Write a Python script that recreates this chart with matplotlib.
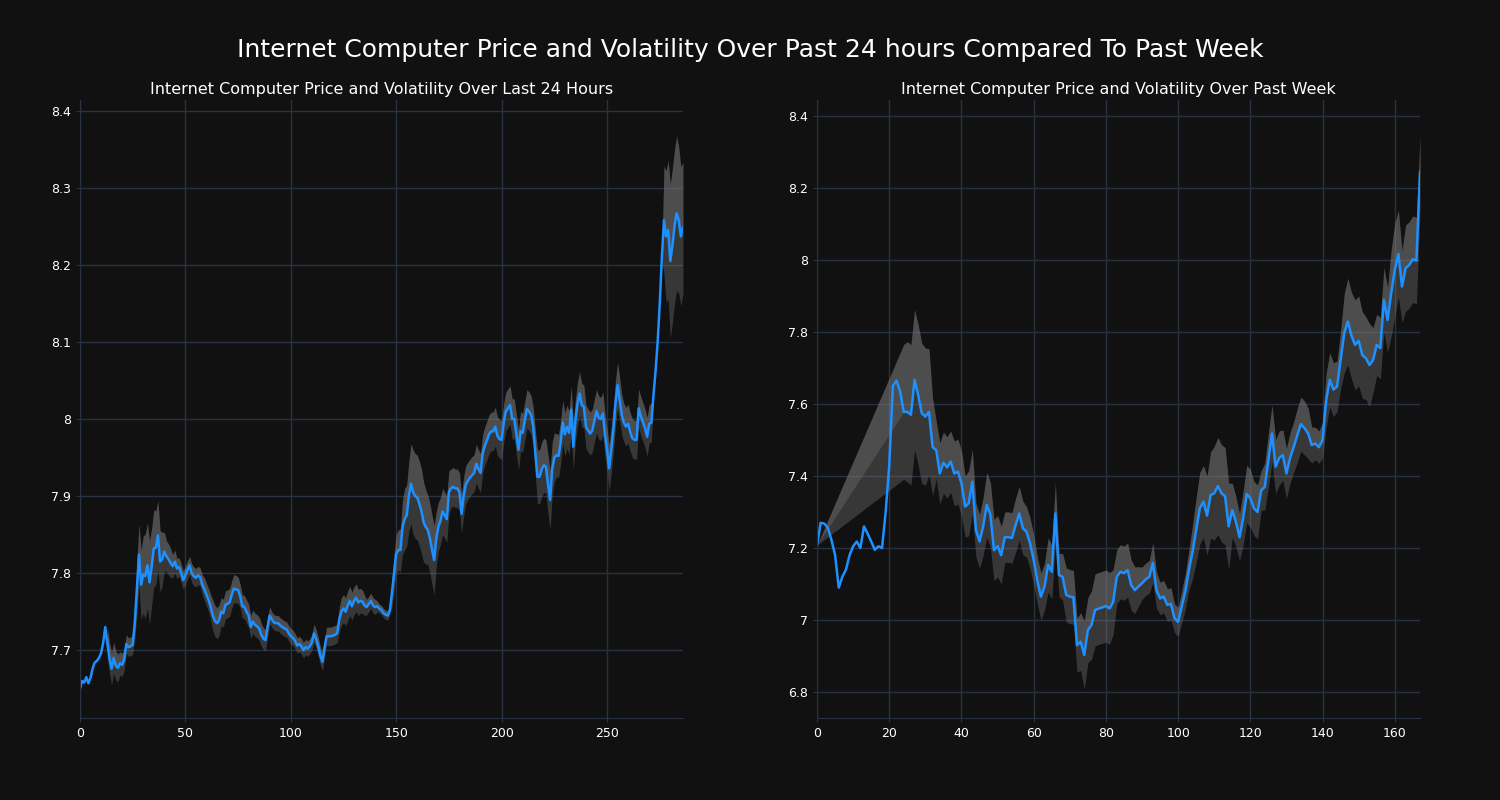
import numpy as np
import pandas as pd
import matplotlib
matplotlib.use("Agg")
import matplotlib.pyplot as plt
from matplotlib.ticker import FuncFormatter

# price over the last 24 hours (5 min steps)
price_24h = [
    7.650, 7.660, 7.658, 7.665, 7.657, 7.664, 7.676, 7.684, 7.686, 7.690,
    7.696, 7.709, 7.730, 7.709, 7.690, 7.676, 7.690, 7.680, 7.677, 7.683,
    7.681, 7.688, 7.708, 7.704, 7.705, 7.707, 7.735, 7.780, 7.824, 7.785,
    7.798, 7.796, 7.810, 7.788, 7.808, 7.832, 7.833, 7.849, 7.815, 7.818,
    7.828, 7.822, 7.818, 7.813, 7.809, 7.815, 7.806, 7.808, 7.800, 7.791,
    7.797, 7.804, 7.810, 7.800, 7.796, 7.794, 7.797, 7.795, 7.785, 7.779,
    7.772, 7.765, 7.756, 7.745, 7.738, 7.735, 7.739, 7.750, 7.748, 7.759,
    7.760, 7.762, 7.772, 7.780, 7.779, 7.778, 7.770, 7.757, 7.756, 7.750,
    7.745, 7.730, 7.737, 7.733, 7.731, 7.728, 7.720, 7.715, 7.713, 7.730,
    7.745, 7.740, 7.736, 7.735, 7.735, 7.732, 7.730, 7.728, 7.727, 7.722,
    7.718, 7.716, 7.712, 7.706, 7.708, 7.705, 7.700, 7.704, 7.702, 7.705,
    7.710, 7.722, 7.715, 7.705, 7.693, 7.685, 7.703, 7.718, 7.718, 7.718,
    7.719, 7.720, 7.722, 7.740, 7.750, 7.754, 7.750, 7.758, 7.764, 7.757,
    7.764, 7.768, 7.762, 7.764, 7.763, 7.758, 7.756, 7.760, 7.764, 7.758,
    7.756, 7.757, 7.754, 7.752, 7.748, 7.746, 7.745, 7.752, 7.775, 7.800,
    7.825, 7.830, 7.830, 7.860, 7.870, 7.875, 7.900, 7.916, 7.905, 7.900,
    7.898, 7.890, 7.880, 7.866, 7.860, 7.856, 7.845, 7.830, 7.817, 7.845,
    7.860, 7.868, 7.880, 7.875, 7.870, 7.905, 7.910, 7.912, 7.910, 7.910,
    7.905, 7.877, 7.900, 7.915, 7.920, 7.924, 7.927, 7.930, 7.942, 7.935,
    7.930, 7.955, 7.965, 7.972, 7.980, 7.984, 7.984, 7.990, 7.978, 7.974,
    7.973, 7.995, 8.010, 8.014, 8.018, 8.000, 8.000, 7.980, 7.960, 7.984,
    7.982, 7.998, 8.013, 8.010, 8.005, 7.990, 7.955, 7.925, 7.925, 7.935,
    7.940, 7.938, 7.915, 7.895, 7.935, 7.950, 7.953, 7.952, 7.970, 7.996,
    7.980, 7.990, 7.982, 8.012, 7.964, 7.998, 8.020, 8.033, 8.018, 8.016,
    7.990, 7.985, 7.981, 7.985, 7.998, 8.010, 8.002, 8.000, 8.007, 7.980,
    7.960, 7.936, 7.960, 7.986, 8.020, 8.044, 8.025, 8.005, 7.995, 7.990,
    7.994, 7.983, 7.975, 7.973, 7.973, 8.014, 8.004, 7.996, 7.988, 7.977,
    7.994, 7.995, 8.030, 8.062, 8.100, 8.150, 8.210, 8.258, 8.237, 8.245,
    8.205, 8.225, 8.250, 8.267, 8.258, 8.237, 8.248,
]

# volatility band half width (nan = no band yet)
vol_24h = [
    np.nan, np.nan, np.nan, np.nan, np.nan, np.nan, np.nan, np.nan, np.nan, np.nan,
    np.nan, np.nan, np.nan, 0.020, 0.020, 0.021, 0.020, 0.019, 0.018, 0.015,
    0.015, 0.014, 0.012, 0.012, 0.012, 0.013, 0.020, 0.035, 0.040, 0.045,
    0.050, 0.055, 0.055, 0.054, 0.050, 0.050, 0.048, 0.045, 0.040, 0.035,
    0.025, 0.020, 0.020, 0.019, 0.015, 0.015, 0.013, 0.012, 0.012, 0.012,
    0.012, 0.012, 0.012, 0.012, 0.012, 0.012, 0.012, 0.012, 0.013, 0.015,
    0.015, 0.015, 0.016, 0.020, 0.020, 0.020, 0.020, 0.018, 0.018, 0.018,
    0.018, 0.018, 0.018, 0.018, 0.018, 0.017, 0.015, 0.015, 0.015, 0.015,
    0.015, 0.015, 0.015, 0.015, 0.015, 0.015, 0.015, 0.014, 0.014, 0.013,
    0.011, 0.010, 0.010, 0.010, 0.010, 0.010, 0.010, 0.010, 0.010, 0.010,
    0.010, 0.010, 0.010, 0.010, 0.010, 0.010, 0.010, 0.010, 0.010, 0.010,
    0.010, 0.012, 0.012, 0.012, 0.012, 0.012, 0.012, 0.012, 0.012, 0.012,
    0.012, 0.012, 0.012, 0.016, 0.018, 0.018, 0.018, 0.019, 0.019, 0.018,
    0.018, 0.018, 0.017, 0.016, 0.015, 0.013, 0.010, 0.010, 0.010, 0.010,
    0.010, 0.007, 0.006, 0.006, 0.006, 0.006, 0.006, 0.006, 0.020, 0.025,
    0.025, 0.026, 0.028, 0.035, 0.040, 0.040, 0.045, 0.052, 0.055, 0.055,
    0.055, 0.055, 0.055, 0.052, 0.048, 0.045, 0.045, 0.045, 0.045, 0.035,
    0.032, 0.030, 0.030, 0.030, 0.030, 0.028, 0.025, 0.025, 0.025, 0.025,
    0.025, 0.025, 0.025, 0.025, 0.024, 0.024, 0.024, 0.024, 0.025, 0.025,
    0.025, 0.025, 0.025, 0.025, 0.025, 0.025, 0.025, 0.025, 0.025, 0.025,
    0.025, 0.025, 0.025, 0.025, 0.025, 0.026, 0.026, 0.026, 0.026, 0.026,
    0.025, 0.025, 0.025, 0.025, 0.025, 0.025, 0.030, 0.035, 0.035, 0.035,
    0.035, 0.035, 0.038, 0.038, 0.035, 0.032, 0.028, 0.028, 0.028, 0.028,
    0.028, 0.028, 0.028, 0.030, 0.030, 0.028, 0.028, 0.028, 0.028, 0.028,
    0.028, 0.028, 0.028, 0.028, 0.028, 0.028, 0.028, 0.028, 0.028, 0.028,
    0.028, 0.030, 0.030, 0.030, 0.030, 0.030, 0.028, 0.026, 0.025, 0.025,
    0.025, 0.025, 0.025, 0.025, 0.025, 0.025, 0.025, 0.025, 0.025, 0.025,
    0.025, 0.025, 0.005, 0.005, 0.005, 0.005, 0.005, 0.070, 0.085, 0.090,
    0.100, 0.100, 0.100, 0.100, 0.095, 0.090, 0.085,
]

# price over the past week (hourly)
price_week = [
    7.208, 7.270, 7.268, 7.256, 7.222, 7.180, 7.090, 7.120, 7.140, 7.180,
    7.205, 7.218, 7.200, 7.260, 7.240, 7.218, 7.195, 7.205, 7.200, 7.300,
    7.430, 7.650, 7.665, 7.635, 7.578, 7.578, 7.570, 7.667, 7.625, 7.574,
    7.565, 7.578, 7.480, 7.472, 7.407, 7.437, 7.424, 7.440, 7.407, 7.412,
    7.380, 7.315, 7.324, 7.384, 7.250, 7.218, 7.260, 7.320, 7.292, 7.194,
    7.205, 7.180, 7.230, 7.230, 7.228, 7.264, 7.296, 7.255, 7.245, 7.213,
    7.167, 7.110, 7.065, 7.093, 7.153, 7.134, 7.296, 7.125, 7.120, 7.070,
    7.065, 7.063, 6.930, 6.940, 6.903, 6.972, 6.986, 7.028, 7.032, 7.035,
    7.039, 7.032, 7.050, 7.120, 7.134, 7.130, 7.139, 7.097, 7.083, 7.093,
    7.102, 7.113, 7.120, 7.159, 7.083, 7.060, 7.065, 7.042, 7.045, 7.005,
    6.995, 7.037, 7.080, 7.140, 7.190, 7.250, 7.310, 7.329, 7.290, 7.347,
    7.352, 7.372, 7.352, 7.344, 7.260, 7.305, 7.273, 7.230, 7.282, 7.350,
    7.338, 7.310, 7.300, 7.360, 7.370, 7.444, 7.518, 7.426, 7.450, 7.458,
    7.407, 7.450, 7.480, 7.513, 7.544, 7.533, 7.518, 7.486, 7.490, 7.480,
    7.500, 7.610, 7.667, 7.640, 7.648, 7.722, 7.796, 7.829, 7.790, 7.764,
    7.775, 7.736, 7.727, 7.708, 7.722, 7.764, 7.755, 7.889, 7.833, 7.907,
    7.972, 8.017, 7.926, 7.977, 7.986, 8.002, 7.998, 8.245,
]

vol_week = [
    0.000, np.nan, np.nan, np.nan, np.nan, np.nan, np.nan, np.nan, np.nan, np.nan,
    np.nan, np.nan, np.nan, np.nan, np.nan, np.nan, np.nan, np.nan, np.nan, np.nan,
    np.nan, np.nan, np.nan, np.nan, 0.187, 0.195, 0.195, 0.195, 0.195, 0.195,
    0.190, 0.175, 0.135, 0.080, 0.085, 0.085, 0.085, 0.085, 0.090, 0.090,
    0.090, 0.085, 0.090, 0.090, 0.075, 0.075, 0.080, 0.090, 0.090, 0.085,
    0.085, 0.080, 0.070, 0.070, 0.070, 0.075, 0.075, 0.075, 0.070, 0.070,
    0.070, 0.065, 0.065, 0.065, 0.075, 0.075, 0.085, 0.060, 0.065, 0.075,
    0.075, 0.075, 0.075, 0.080, 0.095, 0.090, 0.095, 0.100, 0.100, 0.100,
    0.100, 0.100, 0.090, 0.075, 0.075, 0.075, 0.075, 0.070, 0.065, 0.055,
    0.045, 0.045, 0.045, 0.055, 0.050, 0.045, 0.045, 0.045, 0.045, 0.040,
    0.040, 0.045, 0.050, 0.055, 0.075, 0.090, 0.100, 0.100, 0.110, 0.120,
    0.130, 0.135, 0.135, 0.135, 0.120, 0.075, 0.070, 0.065, 0.075, 0.080,
    0.080, 0.075, 0.075, 0.055, 0.065, 0.075, 0.080, 0.075, 0.075, 0.070,
    0.070, 0.070, 0.070, 0.075, 0.075, 0.075, 0.070, 0.050, 0.045, 0.045,
    0.050, 0.075, 0.075, 0.075, 0.070, 0.080, 0.110, 0.120, 0.120, 0.125,
    0.125, 0.120, 0.115, 0.115, 0.090, 0.085, 0.085, 0.090, 0.090, 0.120,
    0.130, 0.120, 0.100, 0.120, 0.120, 0.120, 0.120, 0.100,
]

BG = "#111111"
GRID = "#283240"
LINE = "#1e90ff"


def draw_panel(ax, price, vol, title, ylim, yticks):
    df = pd.DataFrame({"price": price, "vol": vol})
    df.index.name = "x"
    band = df.dropna()
    hi = band["price"] + band["vol"]
    lo = band["price"] - band["vol"]
    ax.fill_between(band.index, lo, hi, color="grey", alpha=0.35, linewidth=0)
    ax.fill_between(band.index, band["price"], hi, color="grey", alpha=0.3, linewidth=0)
    ax.plot(df.index, df["price"], color=LINE, linewidth=1.8)

    ax.set_facecolor(BG)
    ax.set_title(title, color="white", fontsize=11.5, pad=4.5)
    ax.set_xlim(0, len(price) - 1)
    ax.set_ylim(*ylim)
    ax.set_yticks(yticks)
    ax.yaxis.set_major_formatter(FuncFormatter(lambda v, p: f"{v:g}"))
    ax.grid(True, color=GRID, linewidth=1)
    ax.set_axisbelow(True)
    for side in ["top", "right"]:
        ax.spines[side].set_visible(False)
    for side in ["left", "bottom"]:
        ax.spines[side].set_color(GRID)
    ax.tick_params(colors="white", labelsize=9, length=3)
    ax.tick_params(axis="both", which="both", color=GRID)


fig = plt.figure(figsize=(15, 8), dpi=100)
fig.patch.set_facecolor(BG)
ax1 = fig.add_axes([0.0533, 0.1025, 0.402, 0.7725])
ax2 = fig.add_axes([0.5447, 0.1025, 0.402, 0.7725])

draw_panel(ax1, price_24h, vol_24h,
           "Internet Computer Price and Volatility Over Last 24 Hours",
           (7.612, 8.414), [7.7, 7.8, 7.9, 8.0, 8.1, 8.2, 8.3, 8.4])
ax1.set_xticks([0, 50, 100, 150, 200, 250])

draw_panel(ax2, price_week, vol_week,
           "Internet Computer Price and Volatility Over Past Week",
           (6.728, 8.444), [6.8, 7.0, 7.2, 7.4, 7.6, 7.8, 8.0, 8.2, 8.4])
ax2.set_xticks([0, 20, 40, 60, 80, 100, 120, 140, 160])

fig.suptitle("Internet Computer Price and Volatility Over Past 24 hours Compared To Past Week",
             color="white", fontsize=18, y=0.953)

fig.savefig("out.png", dpi=100, facecolor=BG)
